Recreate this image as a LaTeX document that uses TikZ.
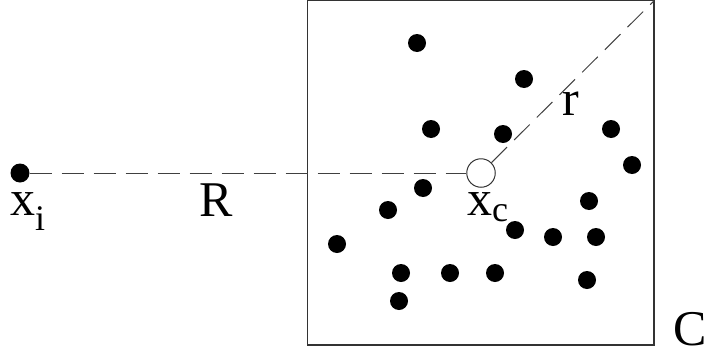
\documentclass[tikz,border=0pt]{standalone}
\usepackage{fontspec}
\setmainfont{Liberation Serif}
\newcommand{\lowsub}[2]{\raisebox{-#1}{\fontsize{36}{40}\selectfont #2}}
\tikzset{
	pt/.style={circle, fill=black, inner sep=0pt, minimum size=18pt},
	hollow/.style={circle, draw=black!80, line width=1pt, fill=white, inner sep=0pt, minimum size=28.5pt},
	lbl/.style={inner sep=0pt, anchor=base west, font=\fontsize{50}{60}\selectfont},
	gap/.style={draw=black!75, line width=1pt, dash pattern=on 22pt off 10pt}
}

\begin{document}
\begin{tikzpicture}[x=1pt, y=-1pt]
	\def\bl{307.5}
	\def\br{654}
	\def\bt{0.8}
	\def\bb{345}
	\useasboundingbox (0,0) rectangle (708,356);

	\draw[black!80, line width=1.3pt] (\bl,\bt) rectangle (\br,\bb);
	\coordinate (corner) at (\br,\bt);

	\foreach \px/\py [count=\k] in {417/43, 524/79, 431/129, 503/134, 611/129, 632/165,
		423/188, 388/210, 337/244, 589/201, 515/230, 553/237, 596/237,
		401/273, 450/273, 495/273, 587/280, 399/301}
		\node[pt] (p\k) at (\px,\py) {};

	\node[pt, minimum size=19pt] (xi) at (20,173) {};
	\node[hollow] (xc) at (481,173) {};

	\draw[gap] (xi) -- (xc);
	\draw[gap] (xc) -- (corner);

	\node[lbl] (ti) at (10,215) {x\lowsub{15pt}{i}};
	\node[lbl] (tc) at (467,215) {x\lowsub{6pt}{c}};
	\node[lbl] (tR) at (199,216) {R};
	\node[lbl] (tr) at (562,115) {r};
	\node[lbl] (tC) at (673,345) {C};
\end{tikzpicture}
\end{document}
